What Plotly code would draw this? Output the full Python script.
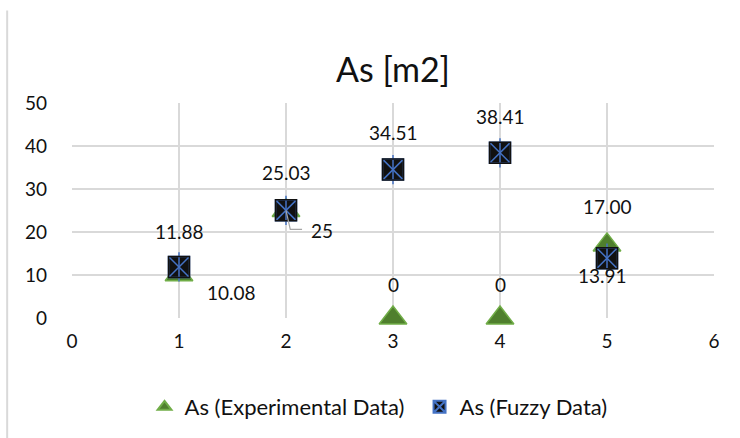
import plotly.graph_objects as go

# ---- data ----
x_vals = [1, 2, 3, 4, 5]
exp_vals = [10.08, 25, 0, 0, 17.00]
fuzzy_vals = [11.88, 25.03, 34.51, 38.41, 13.91]
exp_labels = ["10.08", "25", "0", "0", "17.00"]
fuzzy_labels = ["11.88", "25.03", "34.51", "38.41", "13.91"]
x_ticks = [0, 1, 2, 3, 4, 5, 6]
y_ticks = [0, 10, 20, 30, 40, 50]

# label offsets (pixels) - styling only
exp_offsets = [(52, -18), (36, -20), (0, 34), (0, 34), (0, 38)]
fuzzy_offsets = [(0, 35), (0, 38), (0, 37), (0, 36), (-5, -17)]

FONT = "Lato"
GREEN_FILL = "#4f7f2d"
GREEN_LINE = "#70ad47"
BLUE = "#4472c4"

fig = go.Figure()

fig.add_trace(go.Scatter(
    x=x_vals, y=exp_vals, mode="markers", name="As (Experimental Data)",
    marker=dict(symbol="triangle-up", size=24, color=GREEN_FILL,
                line=dict(color=GREEN_LINE, width=1.5)),
    cliponaxis=False,
))
fig.add_trace(go.Scatter(
    x=x_vals, y=fuzzy_vals, mode="markers", name="As (Fuzzy Data)",
    marker=dict(symbol="square-x", size=21, color="#111111",
                line=dict(color=BLUE, width=1.5)),
    cliponaxis=False,
))
fig.add_trace(go.Scatter(
    x=x_vals, y=fuzzy_vals, mode="markers", showlegend=False,
    marker=dict(symbol="line-ns-open", size=21, color=BLUE,
                line=dict(color=BLUE, width=1.5)),
    cliponaxis=False, hoverinfo="skip",
))
# square border (black) over the x
fig.add_trace(go.Scatter(
    x=x_vals, y=fuzzy_vals, mode="markers", showlegend=False,
    marker=dict(symbol="square-open", size=21, color="#111111",
                line=dict(color="#111111", width=1.5)),
    cliponaxis=False, hoverinfo="skip",
))

annotations = []
for xv, yv, lab, (dx, dy) in zip(x_vals, exp_vals, exp_labels, exp_offsets):
    annotations.append(dict(x=xv, y=yv, xref="x", yref="y", text=lab, showarrow=False,
                            xshift=dx, yshift=dy, font=dict(family=FONT, size=19, color="#111")))
for xv, yv, lab, (dx, dy) in zip(x_vals, fuzzy_vals, fuzzy_labels, fuzzy_offsets):
    annotations.append(dict(x=xv, y=yv, xref="x", yref="y", text=lab, showarrow=False,
                            xshift=dx, yshift=dy, font=dict(family=FONT, size=19, color="#111")))

# leader line for the "25" label
lx, ly = x_vals[1], exp_vals[1]
shapes = [
    dict(type="path", xref="x", yref="y",
         path=f"M {lx},{ly} L {lx + 0.04},{ly - 4.4} L {lx + 0.15},{ly - 4.4}",
         line=dict(color="#a6a6a6", width=1.2)),
    # cropped-page artifact line at the left edge
    dict(type="line", xref="paper", yref="paper", x0=-0.101, x1=-0.101, y0=-0.56, y1=1.43,
         line=dict(color="#d9d9d9", width=2)),
]

fig.update_layout(
    width=740, height=438,
    margin=dict(l=72, r=26, t=103, b=120, autoexpand=False),
    paper_bgcolor="white", plot_bgcolor="white",
    title=dict(text="As [m2]", x=0.5, xref="paper", xanchor="center",
               y=1 - 70 / 438, yref="container", yanchor="middle",
               font=dict(family=FONT, size=34, color="#111")),
    font=dict(family=FONT, size=22, color="#111"),
    xaxis=dict(range=[0, 6], tickvals=x_ticks, showgrid=True, gridcolor="#d9d9d9", gridwidth=1.5,
               zeroline=False, showline=False, ticks="", ticklabelstandoff=10,
               tickfont=dict(family=FONT, size=19, color="#111")),
    yaxis=dict(range=[0, 50], tickvals=y_ticks, showgrid=True, gridcolor="#d9d9d9", gridwidth=1.5,
               zeroline=False, showline=False, ticks="", ticklabelstandoff=24,
               tickfont=dict(family=FONT, size=19, color="#111")),
    legend=dict(orientation="h", x=0.113, xanchor="left", y=1 - 407 / 438, yref="container",
                yanchor="middle",
                font=dict(family=FONT, size=22, color="#111"), itemsizing="constant",
                entrywidth=230, itemwidth=30),
    showlegend=True,
    annotations=annotations,
    shapes=shapes,
)

fig.write_html("out.html", config={"displayModeBar": False},
               post_script="document.body.style.margin='0';")
